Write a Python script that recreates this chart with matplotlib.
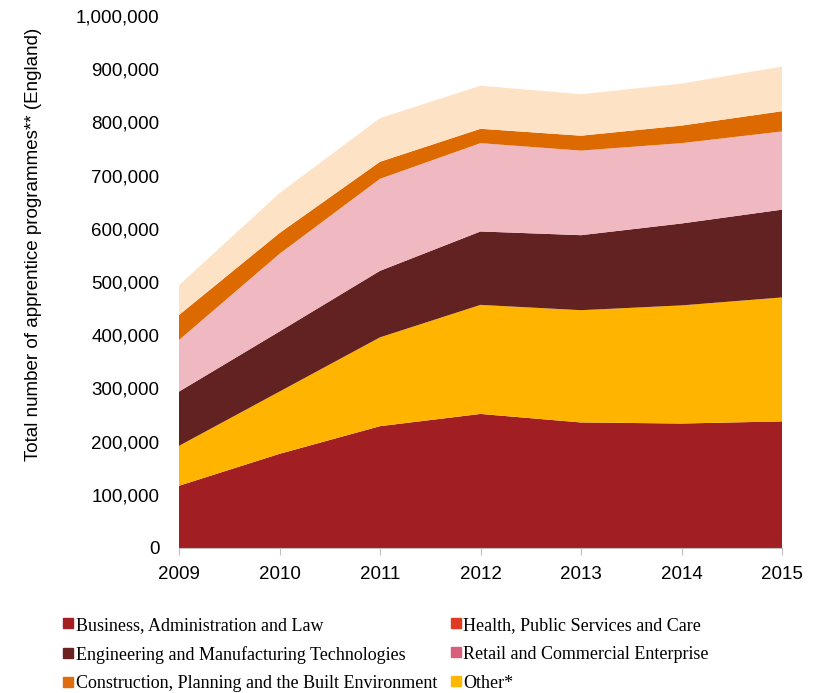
import matplotlib.pyplot as plt
import numpy as np
from matplotlib.lines import Line2D
from matplotlib.ticker import FuncFormatter

plt.rcParams["font.family"] = ["Liberation Sans", "DejaVu Sans"]

# data (stack order, bottom to top)
years = [2009, 2010, 2011, 2012, 2013, 2014, 2015]
business = [117000, 177000, 229000, 252000, 236000, 234000, 238000]
other = [75000, 117000, 167000, 205000, 211000, 222000, 233000]
engineering = [102000, 113000, 125000, 138000, 141000, 154000, 165000]
retail = [97000, 146000, 173000, 166000, 159000, 151000, 147000]
construction = [47000, 39000, 32000, 27000, 28000, 33000, 38000]
health = [56000, 75000, 82000, 81000, 78000, 79000, 84000]

area_colors = ["#a11f22", "#ffb500", "#622222", "#f0b8c0", "#dd6a00", "#fee2c6"]

legend_labels = ["Business, Administration and Law",
                 "Engineering and Manufacturing Technologies",
                 "Construction, Planning and the Built Environment",
                 "Health, Public Services and Care",
                 "Retail and Commercial Enterprise",
                 "Other*"]
legend_colors = ["#a31f22", "#6a2222", "#e06c10", "#e03a22", "#d9607a", "#ffb800"]

fig = plt.figure(figsize=(8.17, 6.93), dpi=100)
ax = fig.add_axes([179/817, 145/693, 603/817, 532/693])

ax.stackplot(years, business, other, engineering, retail, construction, health,
             colors=area_colors, linewidth=0)

ax.set_xlim(2009, 2015)
ax.set_ylim(0, 1000000)
ax.set_xticks(years)
ax.set_yticks(np.arange(0, 1000001, 100000))
ax.yaxis.set_major_formatter(FuncFormatter(lambda v, p: f"{int(v):,}"))
ax.tick_params(axis="y", length=0, labelsize=13.5, pad=14)
ax.tick_params(axis="x", length=5, color="#bfbfbf", labelsize=13.5, pad=8)
for s in ["top", "right", "left"]:
    ax.spines[s].set_visible(False)
ax.spines["bottom"].set_color("#bfbfbf")

ax.set_ylabel("Total number of apprentice programmes** (England)", fontsize=13.5)
ax.yaxis.set_label_coords(-0.228, 0.571)

handles = [Line2D([], [], marker="s", ls="none", markersize=6.5, color=c)
           for c in legend_colors]
fig.legend(handles, legend_labels, ncol=2, loc="upper left",
           bbox_to_anchor=(0.077, 0.110), frameon=False,
           prop={"family": "Liberation Serif", "size": 13},
           handlelength=0.6, handletextpad=0.1, columnspacing=0.75,
           labelspacing=0.66, borderaxespad=0, borderpad=0)

fig.savefig("out.png", dpi=100)
